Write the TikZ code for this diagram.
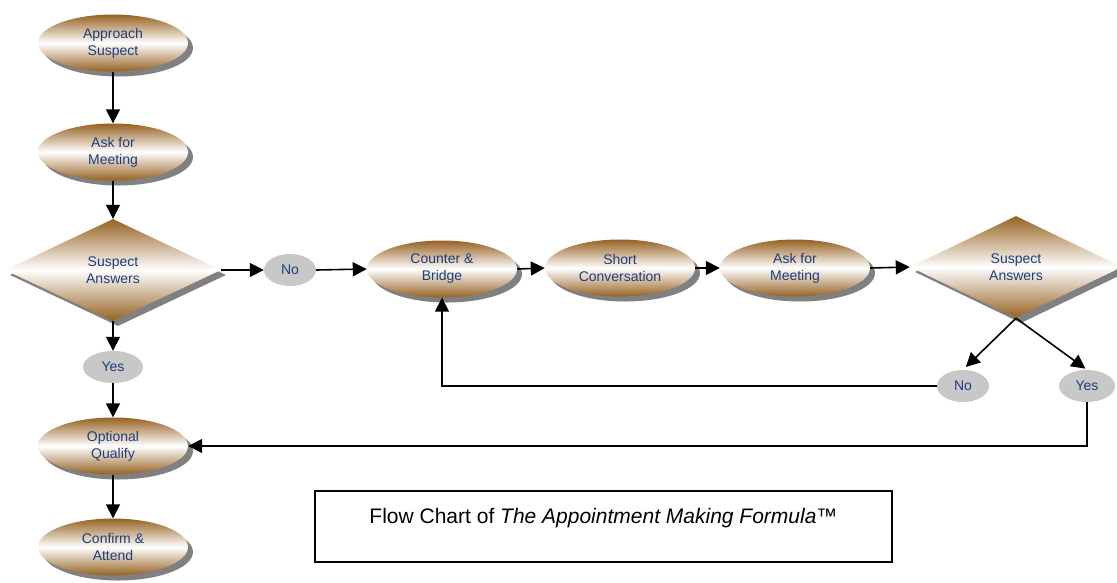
\documentclass[tikz,border=0pt]{standalone}
\usepackage{fontspec}
\setmainfont{Liberation Sans}
\usetikzlibrary{shapes.geometric,arrows.meta,shadows}
\definecolor{brn}{RGB}{150,98,34}
\definecolor{txtblue}{RGB}{30,62,125}
\definecolor{pillgray}{RGB}{200,200,200}
\definecolor{shgray}{RGB}{128,128,128}
\tikzset{
  shad/.style={drop shadow={shadow xshift=5pt,shadow yshift=-5pt,fill=shgray,opacity=1}},
  lbl/.style={font=\fontsize{14}{17}\selectfont,text=txtblue,align=center},
  stepbox/.style={ellipse,lbl,shad,top color=brn,bottom color=brn,middle color=white,
    minimum width=150pt,minimum height=57pt,inner sep=0pt},
  decide/.style={diamond,lbl,shad,top color=brn,bottom color=brn,middle color=white,
    minimum width=216pt,minimum height=102pt,inner sep=0pt},
  pill/.style={ellipse,lbl,fill=pillgray,minimum width=52pt,minimum height=32pt,inner sep=0pt},
  arr/.style={line width=1.6pt,-{Triangle[length=14pt,width=14pt]}},
  ln/.style={line width=1.6pt}
}
\begin{document}
\begin{tikzpicture}[x=1pt,y=-1pt]
\useasboundingbox (0,0) rectangle (1117,582);
% left column
\node[stepbox] (app) at (113,43) {Approach\\Suspect};
\node[stepbox] (ask) at (113,152) {Ask for\\Meeting};
\node[decide] (d1) at (113,270) {Suspect\\Answers};
\node[pill,minimum width=60pt] (yes1) at (113,367) {Yes};
\node[stepbox] (oq) at (113,446) {Optional\\Qualify};
\node[stepbox] (ca) at (113,547) {Confirm \&\\Attend};
% row
\node[pill] (no1) at (290,270) {No};
\node[stepbox] (cb) at (442,269) {Counter \&\\Bridge};
\node[stepbox] (sc) at (620,268) {Short\\Conversation};
\node[stepbox] (am2) at (795,268) {Ask for\\Meeting};
\node[decide,minimum width=212pt] (d2) at (1016,267) {Suspect\\Answers};
\node[pill] (no2) at (963,386) {No};
\node[pill,minimum width=56pt] (yes2) at (1087,386) {Yes};
% title box
\node[draw,line width=1.5pt,minimum width=577pt,minimum height=71pt,
  text height=14pt,text depth=21pt,inner sep=0pt,
  font=\fontsize{21}{24}\selectfont] (title) at (603.5,526.5)
  {Flow Chart of \textit{The Appointment Making Formula™}};
% connectors
\draw[arr] (app.south) -- (ask.north);
\draw[arr] (ask.south) -- (d1.north);
\draw[arr] (d1.south) -- (yes1.north);
\draw[arr] (yes1.south) -- (oq.north);
\draw[arr] (oq.south) -- (ca.north);
\draw[arr] (d1.east) -- (no1.west);
\draw[arr] (no1.east) -- (cb.west);
\draw[arr] (cb.east) -- (sc.west);
\draw[arr] (sc.east) -- (am2.west);
\draw[arr] (am2.east) -- (d2.west);
\draw[arr,shorten >=4pt] (d2.south) -- (no2.north);
\draw[arr,shorten >=2pt] (d2.south) -- (yes2.north);
\draw[arr] (no2.west) -| (cb.south);
\draw[arr] (yes2.south) |- (oq.east);
\end{tikzpicture}
\end{document}
